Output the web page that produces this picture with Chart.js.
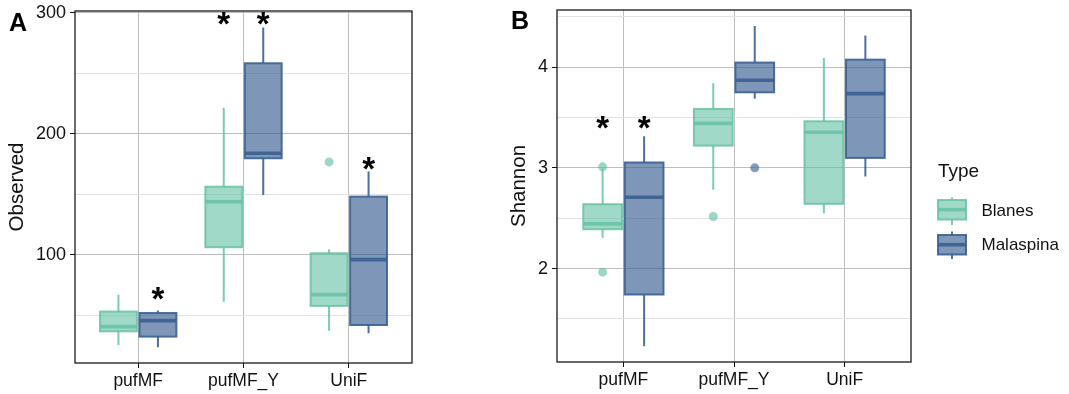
<!DOCTYPE html>
<html>
<head>
<meta charset="utf-8">
<title>Observed and Shannon diversity by Type</title>
<script src="https://cdn.jsdelivr.net/npm/chart.js@4.4.1/dist/chart.umd.min.js"></script>
<style>
  html, body { margin: 0; padding: 0; background: #fff; }
  #wrap { position: relative; width: 1069px; height: 394px; overflow: hidden; }
  canvas { position: absolute; top: 0; }
  #observed { left: 0; width: 480px; height: 394px; }
  #shannon { left: 480px; width: 589px; height: 394px; }
</style>
</head>
<body>
<div id="wrap">
  <canvas id="observed" width="480" height="394"></canvas>
  <canvas id="shannon" width="589" height="394"></canvas>
</div>
<script>
Chart.defaults.font.family = "'Liberation Sans', Arial, Helvetica, sans-serif";
Chart.defaults.color = '#1a1a1a';

const categories = ['pufMF', 'pufMF_Y', 'UniF'];
const typeNames = ['Blanes', 'Malaspina'];

// box stats per category: [lower whisker, Q1, median, Q3, upper whisker]
const observedBlanes = [
  [25.6, 36.9, 40.8, 53.2, 67.0],
  [61.4, 106.4, 144.0, 156.4, 221.7],
  [37.4, 57.9, 67.2, 101.4, 104.7]
];
const observedMalaspina = [
  [23.7, 32.5, 45.7, 52.0, 54.0],
  [149.6, 179.9, 184.0, 258.4, 288.0],
  [35.2, 42.1, 96.1, 148.2, 168.9]
];
const observedOutBlanes = [[], [], [176.9]];
const observedOutMalaspina = [[], [], []];
const observedStarBlanes = [null, 295, null];
const observedStarMalaspina = [68.3, 295, 175.2];
const observedRange = [10.7, 301.6];
const observedMajor = [100, 200, 300];
const observedMinor = [50, 150, 250];

const shannonBlanes = [
  [2.306, 2.391, 2.444, 2.639, 2.995],
  [2.782, 3.221, 3.442, 3.585, 3.839],
  [2.55, 2.643, 3.353, 3.462, 4.091]
];
const shannonMalaspina = [
  [1.23, 1.743, 2.708, 3.053, 3.313],
  [3.685, 3.75, 3.869, 4.045, 4.409],
  [2.914, 3.099, 3.737, 4.074, 4.313]
];
const shannonOutBlanes = [[3.01, 1.965], [2.517], []];
const shannonOutMalaspina = [[], [3.0], []];
const shannonStarBlanes = [3.45, null, null];
const shannonStarMalaspina = [3.45, null, null];
const shannonRange = [1.073, 4.567];
const shannonMajor = [2, 3, 4];
const shannonMinor = [1.5, 2.5, 3.5, 4.5];

const INK = '#111';
const GRID_MAJOR = '#bdbdbd';
const GRID_MINOR = '#e2e2e2';
const DODGE = 0.1875;
const BOX_WIDTH = 0.35;
const STYLE = {
  Blanes:    { fill: 'rgba(102,194,165,0.62)', line: 'rgba(102,194,165,0.85)', point: 'rgba(102,194,165,0.65)' },
  Malaspina: { fill: 'rgba(59,96,145,0.66)',   line: 'rgba(59,96,145,0.9)',    point: 'rgba(59,96,145,0.62)' }
};

function outlierSet(name, outliers, shift) {
  return {
    label: name,
    data: outliers.flatMap((vals, i) => vals.map(v => ({ x: i + 1 + shift, y: v }))),
    backgroundColor: STYLE[name].point,
    borderWidth: 0,
    pointRadius: 4.5
  };
}

function drawBox(ctx, cx, half, py, st) {
  const [lo, q1, med, q3, hi] = py;
  ctx.strokeStyle = st.line;
  ctx.lineWidth = 2;
  ctx.beginPath();
  ctx.moveTo(cx, lo); ctx.lineTo(cx, q1);
  ctx.moveTo(cx, q3); ctx.lineTo(cx, hi);
  ctx.stroke();
  ctx.fillStyle = st.fill;
  ctx.fillRect(cx - half, q3, half * 2, q1 - q3);
  ctx.strokeRect(cx - half, q3, half * 2, q1 - q3);
  ctx.lineWidth = 3.6;
  ctx.beginPath();
  ctx.moveTo(cx - half, med); ctx.lineTo(cx + half, med);
  ctx.stroke();
}

// boxes, whiskers, medians and significance stars
function boxLayer(groups) {
  return {
    id: 'boxLayer',
    beforeDatasetsDraw(chart) {
      const { ctx, scales: { x, y } } = chart;
      const half = BOX_WIDTH * (x.getPixelForValue(1) - x.getPixelForValue(0)) / 2;
      ctx.save();
      groups.forEach(g => {
        g.stats.forEach((s, i) => {
          const cx = x.getPixelForValue(i + 1 + g.shift);
          drawBox(ctx, cx, half, s.map(v => y.getPixelForValue(v)), STYLE[g.name]);
        });
      });
      ctx.restore();
    },
    afterDatasetsDraw(chart) {
      const { ctx, scales: { x, y } } = chart;
      ctx.save();
      ctx.fillStyle = '#000';
      ctx.font = "bold 33px 'Liberation Sans', Arial, sans-serif";
      ctx.textAlign = 'center';
      ctx.textBaseline = 'alphabetic';
      const m = ctx.measureText('*');
      const lift = (m.actualBoundingBoxAscent - m.actualBoundingBoxDescent) / 2;
      groups.forEach(g => {
        g.stars.forEach((v, i) => {
          if (v === null) return;
          ctx.fillText('*', x.getPixelForValue(i + 1 + g.shift), y.getPixelForValue(v) + lift);
        });
      });
      ctx.restore();
    }
  };
}

// panel border and letter
function frame(letter, lx, ly) {
  return {
    id: 'frame',
    afterDraw(chart) {
      const { ctx, chartArea: a } = chart;
      ctx.save();
      ctx.strokeStyle = '#1a1a1a';
      ctx.lineWidth = 1.3;
      ctx.strokeRect(a.left, a.top, a.right - a.left, a.bottom - a.top);
      ctx.fillStyle = '#000';
      ctx.font = "bold 25px 'Liberation Sans', Arial, sans-serif";
      ctx.textAlign = 'left';
      ctx.textBaseline = 'alphabetic';
      ctx.fillText(letter, lx, ly);
      ctx.restore();
    }
  };
}

// "Type" legend with box glyphs
const typeLegend = {
  id: 'typeLegend',
  afterDraw(chart) {
    const { ctx } = chart;
    const left = 458, w = 28;
    const keys = [
      { name: 'Blanes',    y: [225, 219.5, 209.7, 200, 197.5], label: 211 },
      { name: 'Malaspina', y: [259, 254.5, 244.7, 235, 231.5], label: 245 }
    ];
    ctx.save();
    ctx.fillStyle = INK;
    ctx.textAlign = 'left';
    ctx.textBaseline = 'middle';
    ctx.font = "19px 'Liberation Sans', Arial, sans-serif";
    ctx.fillText('Type', left, 172);
    ctx.font = "17px 'Liberation Sans', Arial, sans-serif";
    keys.forEach(k => {
      drawBox(ctx, left + w / 2, w / 2, k.y, STYLE[k.name]);
      ctx.fillStyle = INK;
      ctx.fillText(k.name, 501.5, k.label);
    });
    ctx.restore();
  }
};

function xScale(height) {
  return {
    type: 'linear', min: 0.4, max: 3.6,
    afterBuildTicks: s => { s.ticks = categories.map((c, i) => ({ value: i + 1 })); },
    afterFit: s => { s.height = height; s.paddingLeft = 0; s.paddingRight = 0; },
    ticks: { callback: v => categories[v - 1], padding: 3, font: { size: 17.5 }, color: INK, maxRotation: 0, autoSkip: false },
    grid: { color: GRID_MAJOR, tickColor: INK, tickLength: 5, lineWidth: 1 },
    border: { display: false }
  };
}

function yScale(range, major, minor, title, titlePad, width) {
  const all = [...minor, ...major].sort((a, b) => a - b);
  const isMajor = c => c.tick && major.includes(c.tick.value);
  return {
    type: 'linear', min: range[0], max: range[1],
    afterBuildTicks: s => { s.ticks = all.map(v => ({ value: v })); },
    afterFit: s => { s.width = width; s.paddingTop = 0; s.paddingBottom = 0; },
    ticks: { callback: v => major.includes(v) ? String(v) : '', padding: 4, font: { size: 18 }, color: INK, autoSkip: false },
    grid: {
      color: c => isMajor(c) ? GRID_MAJOR : GRID_MINOR,
      tickColor: c => isMajor(c) ? INK : 'rgba(0,0,0,0)',
      tickLength: 5, lineWidth: 1
    },
    border: { display: false },
    title: { display: true, text: title, color: INK, font: { size: 20.5 }, padding: { top: titlePad, bottom: 0 } }
  };
}

function baseOptions(padding, xHeight, y) {
  return {
    responsive: false,
    animation: false,
    events: [],
    layout: { padding },
    plugins: { legend: { display: false }, tooltip: { enabled: false } },
    scales: { x: xScale(xHeight), y }
  };
}

new Chart(document.getElementById('observed'), {
  type: 'scatter',
  data: {
    datasets: [
      outlierSet('Blanes', observedOutBlanes, -DODGE),
      outlierSet('Malaspina', observedOutMalaspina, DODGE)
    ]
  },
  options: baseOptions({ top: 11, right: 68, bottom: 0, left: 0 }, 31,
    yScale(observedRange, observedMajor, observedMinor, 'Observed', 4.7, 75)),
  plugins: [
    boxLayer([
      { name: 'Blanes', shift: -DODGE, stats: observedBlanes, stars: observedStarBlanes },
      { name: 'Malaspina', shift: DODGE, stats: observedMalaspina, stars: observedStarMalaspina }
    ]),
    frame('A', 9, 31)
  ]
});

new Chart(document.getElementById('shannon'), {
  type: 'scatter',
  data: {
    datasets: [
      outlierSet('Blanes', shannonOutBlanes, -DODGE),
      outlierSet('Malaspina', shannonOutMalaspina, DODGE)
    ]
  },
  options: baseOptions({ top: 10, right: 158, bottom: 0, left: 0 }, 32,
    yScale(shannonRange, shannonMajor, shannonMinor, 'Shannon', 26.7, 77)),
  plugins: [
    boxLayer([
      { name: 'Blanes', shift: -DODGE, stats: shannonBlanes, stars: shannonStarBlanes },
      { name: 'Malaspina', shift: DODGE, stats: shannonMalaspina, stars: shannonStarMalaspina }
    ]),
    frame('B', 31, 28.5),
    typeLegend
  ]
});
</script>
</body>
</html>
